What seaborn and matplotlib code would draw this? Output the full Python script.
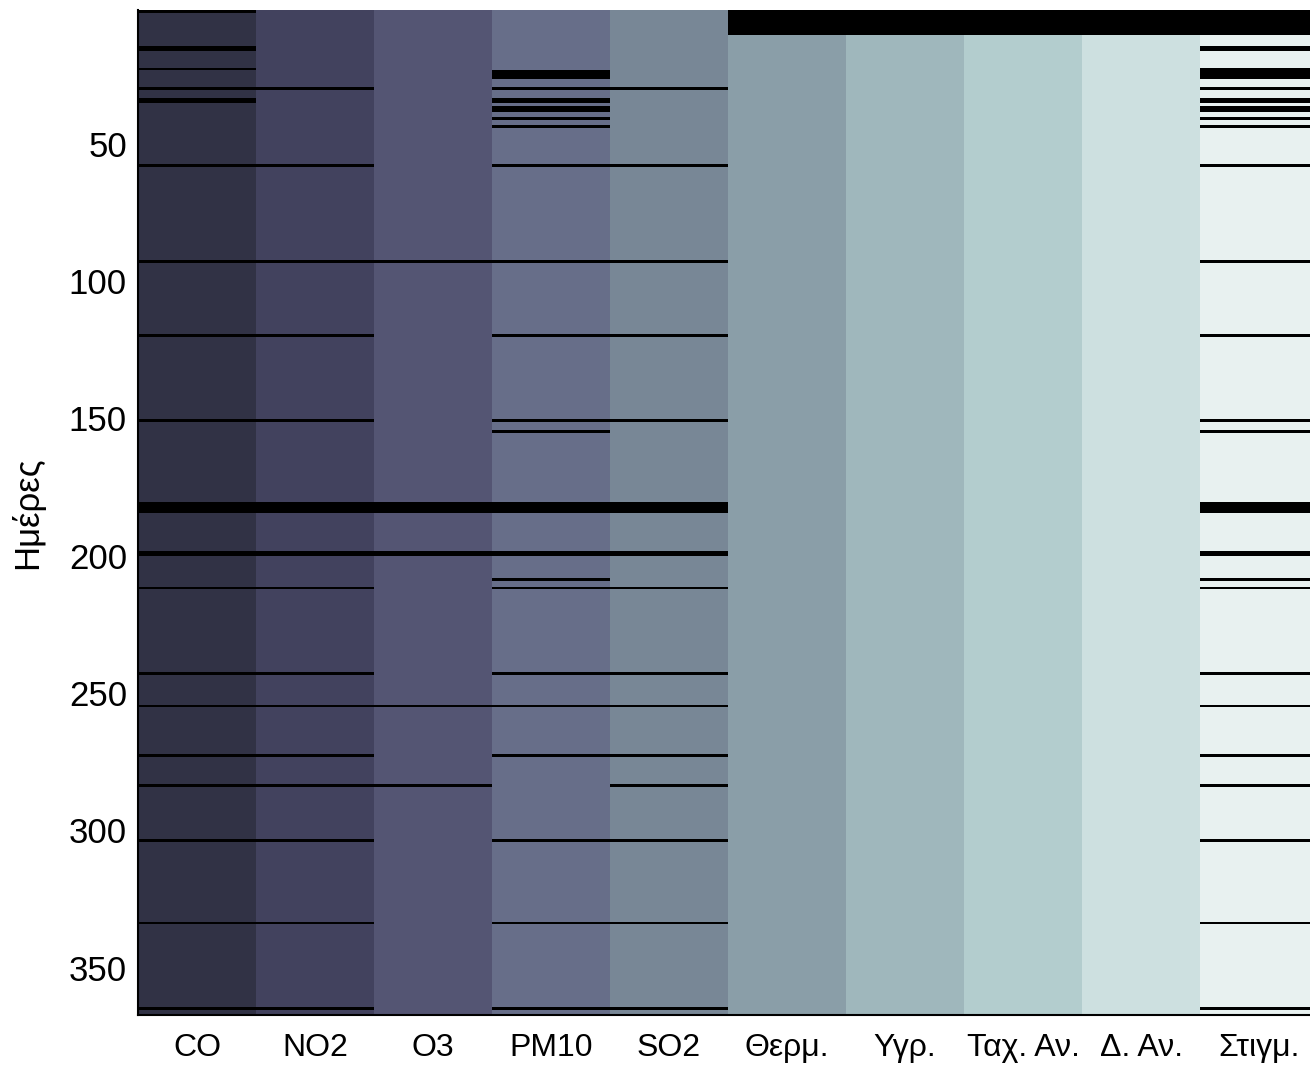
import numpy as np
import pandas as pd
import matplotlib
matplotlib.use("Agg")
import matplotlib.pyplot as plt
from matplotlib.colors import ListedColormap
import seaborn as sns

# ---- data -------------------------------------------------------------
n_days = 366
columns = ["CO", "NO2", "O3", "PM10", "SO2", "Θερμ.", "Υγρ.", "Ταχ. Αν.", "Δ. Αν.", "Στιγμ."]
column_colors = ["#313245", "#42425e", "#545573", "#676e89", "#788796",
                 "#8a9ea8", "#9fb7bc", "#b3cdce", "#cde0e0", "#e8f1f0"]
missing_color = "#000000"

missing_co = [0, 13, 14, 21, 28, 32, 33, 56, 91, 118, 149, 179, 180, 181, 182,
              197, 198, 210, 241, 253, 271, 282, 302, 332, 363]
missing_no2 = [28, 56, 91, 118, 149, 179, 180, 181, 182, 197, 198, 210, 241,
               253, 271, 282, 302, 332, 363]
missing_o3 = [91, 179, 180, 181, 182, 197, 198, 253, 282]
missing_pm10 = [22, 23, 24, 28, 32, 33, 35, 36, 39, 42, 56, 91, 118, 149, 153,
                179, 180, 181, 182, 197, 198, 207, 210, 241, 253, 271, 302, 332, 363]
missing_so2 = [28, 56, 91, 118, 149, 179, 180, 181, 182, 197, 198, 210, 241,
               253, 271, 282, 302, 332, 363]
missing_temp = [0, 1, 2, 3, 4, 5, 6, 7, 8]
missing_hum = [0, 1, 2, 3, 4, 5, 6, 7, 8]
missing_wspd = [0, 1, 2, 3, 4, 5, 6, 7, 8]
missing_wdir = [0, 1, 2, 3, 4, 5, 6, 7, 8]
missing_inst = [0, 1, 2, 3, 4, 5, 6, 7, 8, 13, 14, 21, 22, 23, 24, 28, 32, 33,
                35, 36, 39, 42, 56, 91, 118, 149, 153, 179, 180, 181, 182, 197,
                198, 207, 210, 241, 253, 271, 282, 302, 332, 363]

missing_lists = [missing_co, missing_no2, missing_o3, missing_pm10, missing_so2,
                 missing_temp, missing_hum, missing_wspd, missing_wdir, missing_inst]
y_ticks = [50, 100, 150, 200, 250, 300, 350]

# ---- matrix: 0 = missing, k+1 = present in column k ---------------------
mat = np.zeros((n_days, len(columns)))
for k, miss in enumerate(missing_lists):
    mat[:, k] = k + 1
    mat[miss, k] = 0
df = pd.DataFrame(mat, columns=columns)

sns.set_theme(style="white")
plt.rcParams["font.family"] = ["Liberation Sans", "DejaVu Sans"]
plt.rcParams["text.color"] = "black"
plt.rcParams["axes.labelcolor"] = "black"
plt.rcParams["xtick.color"] = "black"
plt.rcParams["ytick.color"] = "black"

fig = plt.figure(figsize=(13.10, 10.68), dpi=100)
ax = fig.add_axes([138 / 1310, 1 - 1015 / 1068, 1180 / 1310, 1005 / 1068])

cmap = ListedColormap([missing_color] + column_colors)
sns.heatmap(df, ax=ax, cmap=cmap, vmin=-0.5, vmax=len(columns) + 0.5,
            cbar=False, linewidths=0, rasterized=True)

ax.set_yticks(y_ticks)
ax.set_yticklabels([str(t) for t in y_ticks], rotation=0, fontsize=25)
ax.set_xticks(np.arange(len(columns)) + 0.5)
ax.set_xticklabels(columns, rotation=0, fontsize=23)
ax.set_ylabel("Ημέρες", fontsize=25, labelpad=18)
ax.set_xlabel("")

ax.tick_params(axis="both", direction="in", length=9, width=1.5, color="black",
               bottom=True, left=True, top=True, right=True,
               labeltop=False, labelright=False, labelbottom=True, labelleft=True)
ax.tick_params(axis="x", pad=13)
ax.tick_params(axis="y", pad=8)

for side in ["left", "bottom"]:
    ax.spines[side].set_visible(True)
    ax.spines[side].set_color("black")
    ax.spines[side].set_linewidth(1.5)
for side in ["top", "right"]:
    ax.spines[side].set_visible(False)

fig.savefig("out.png", dpi=100)
